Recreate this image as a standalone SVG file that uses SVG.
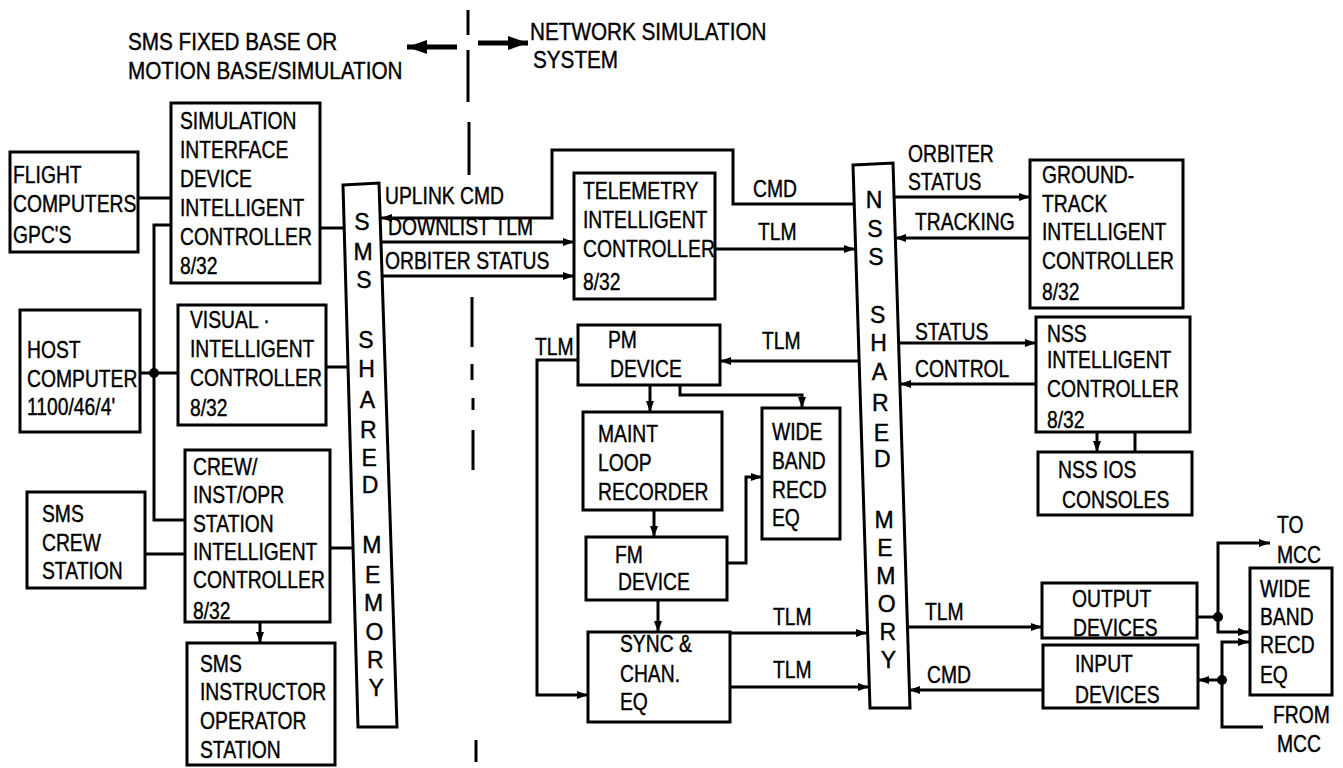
<svg xmlns="http://www.w3.org/2000/svg" width="1343" height="768" viewBox="0 0 1343 768">
<style>
.b{fill:#fff;stroke:#000;stroke-width:3}
.c{fill:none;stroke:#000;stroke-width:3}
.d{fill:#000}
text{font-family:"Liberation Sans",Arial,sans-serif;font-size:23px;fill:#000;stroke:#000;stroke-width:0.4px;transform-box:fill-box;transform-origin:0 50%;transform:scaleX(0.84)}
text.t{transform:scaleX(0.9)}
text.m{text-anchor:middle;transform:none}
</style>
<defs>
<marker id="a" viewBox="0 0 11 8" refX="11" refY="4" markerWidth="11" markerHeight="8" markerUnits="userSpaceOnUse" orient="auto"><path d="M0,0 L11,4 L0,8 z" fill="#000"/></marker>
<marker id="A" viewBox="0 0 20 14" refX="20" refY="7" markerWidth="20" markerHeight="14" markerUnits="userSpaceOnUse" orient="auto"><path d="M0,0 L20,7 L0,14 z" fill="#000"/></marker>
</defs>
<rect width="1343" height="768" fill="#fff"/>

<g id="titles">
<text class="t" x="128" y="50">SMS FIXED BASE OR</text>
<text class="t" x="128" y="79">MOTION BASE/SIMULATION</text>
<text class="t" x="530" y="40">NETWORK SIMULATION</text>
<text class="t" x="533" y="68">SYSTEM</text>
</g>

<g id="connectors">
<path class="c" d="M468,10 V35 M468,50 V102 M469,122 V175 M472,297 V347 M472,364 V380 M473,398 V410 M473,430 V470 M476,740 V762"/>
<path d="M457,47 H407" stroke="#000" stroke-width="5" fill="none" marker-end="url(#A)"/>
<path d="M478,43 H528" stroke="#000" stroke-width="5" fill="none" marker-end="url(#A)"/>
<path class="c" d="M138,198 H171"/>
<path class="c" d="M171,225 H154 V520 H185"/>
<path class="c" d="M140,373 H178"/>
<circle class="d" cx="154" cy="373" r="5"/>
<path class="c" d="M320,228 H344"/>
<path class="c" d="M326,367 H348"/>
<path class="c" d="M330,548 H353"/>
<path class="c" d="M145,554 H185"/>
<path class="c" d="M260,622 V643" marker-end="url(#a)"/>
<path class="c" d="M854,204 H733 V150 H552 V218 H381" marker-end="url(#a)"/>
<path class="c" d="M381,242 H574" marker-end="url(#a)"/>
<path class="c" d="M382,276 H574" marker-end="url(#a)"/>
<path class="c" d="M715,249 H855" marker-end="url(#a)"/>
<path class="c" d="M859,361 H720" marker-end="url(#a)"/>
<path class="c" d="M578,360 H537 V695 H588" marker-end="url(#a)"/>
<path class="c" d="M650,385 V412" marker-end="url(#a)"/>
<path class="c" d="M680,385 V395 H802 V408" marker-end="url(#a)"/>
<path class="c" d="M654,510 V537" marker-end="url(#a)"/>
<path class="c" d="M727,563 H746 V477 H762" marker-end="url(#a)"/>
<path class="c" d="M658,600 V632" marker-end="url(#a)"/>
<path class="c" d="M730,633 H867" marker-end="url(#a)"/>
<path class="c" d="M730,687 H869" marker-end="url(#a)"/>
<path class="c" d="M894,197 H1030" marker-end="url(#a)"/>
<path class="c" d="M1030,238 H895" marker-end="url(#a)"/>
<path class="c" d="M898,343 H1036" marker-end="url(#a)"/>
<path class="c" d="M1036,384 H900" marker-end="url(#a)"/>
<path class="c" d="M1097,432 V452" marker-end="url(#a)"/>
<path class="c" d="M1135,432 V452"/>
<path class="c" d="M907,627 H1042" marker-end="url(#a)"/>
<path class="c" d="M1043,690 H909" marker-end="url(#a)"/>
<path class="c" d="M1197,617 H1218"/>
<circle class="d" cx="1218" cy="617" r="5"/>
<path class="c" d="M1218,617 V543 H1270" marker-end="url(#a)"/>
<path class="c" d="M1218,617 V632 H1249" marker-end="url(#a)"/>
<path class="c" d="M1222,680 H1198" marker-end="url(#a)"/>
<circle class="d" cx="1222" cy="680" r="5"/>
<path class="c" d="M1222,680 V642 H1249" marker-end="url(#a)"/>
<path class="c" d="M1222,680 V727 H1263"/>
</g>

<g id="labels">
<text x="385" y="204">UPLINK CMD</text>
<text x="388" y="235">DOWNLIST TLM</text>
<text x="385" y="269">ORBITER STATUS</text>
<text x="753" y="197">CMD</text>
<text x="758" y="240">TLM</text>
<text x="762" y="349">TLM</text>
<text x="535" y="355">TLM</text>
<text x="773" y="625">TLM</text>
<text x="773" y="678">TLM</text>
<text x="908" y="162">ORBITER</text>
<text x="908" y="190">STATUS</text>
<text x="915" y="230">TRACKING</text>
<text x="915" y="340">STATUS</text>
<text x="915" y="377">CONTROL</text>
<text x="925" y="620">TLM</text>
<text x="927" y="683">CMD</text>
<text x="1277" y="533">TO</text>
<text x="1277" y="563">MCC</text>
<text x="1273" y="723">FROM</text>
<text x="1277" y="752">MCC</text>
</g>

<g id="flight-computers">
<rect class="b" x="10" y="152" width="128" height="100"/>
<text x="13" y="183">FLIGHT</text>
<text x="13" y="212">COMPUTERS</text>
<text x="13" y="243">GPC'S</text>
</g>
<g id="sim-interface">
<rect class="b" x="171" y="103" width="149" height="180"/>
<text x="180" y="129">SIMULATION</text>
<text x="180" y="158">INTERFACE</text>
<text x="180" y="187">DEVICE</text>
<text x="180" y="216">INTELLIGENT</text>
<text x="180" y="245">CONTROLLER</text>
<text x="180" y="274">8/32</text>
</g>
<g id="host-computer">
<rect class="b" x="20" y="310" width="120" height="122"/>
<text x="27" y="358">HOST</text>
<text x="27" y="387">COMPUTER</text>
<text x="27" y="415">1100/46/4'</text>
</g>
<g id="visual">
<rect class="b" x="178" y="305" width="148" height="120"/>
<text x="190" y="328">VISUAL ·</text>
<text x="190" y="357">INTELLIGENT</text>
<text x="190" y="386">CONTROLLER</text>
<text x="190" y="416">8/32</text>
</g>
<g id="crew-inst">
<rect class="b" x="185" y="450" width="145" height="172"/>
<text x="193" y="475">CREW/</text>
<text x="193" y="503">INST/OPR</text>
<text x="193" y="532">STATION</text>
<text x="193" y="560">INTELLIGENT</text>
<text x="193" y="588">CONTROLLER</text>
<text x="193" y="619">8/32</text>
</g>
<g id="sms-crew-station">
<rect class="b" x="27" y="492" width="118" height="96"/>
<text x="42" y="522">SMS</text>
<text x="42" y="551">CREW</text>
<text x="42" y="579">STATION</text>
</g>
<g id="sms-instructor">
<rect class="b" x="187" y="643" width="148" height="122"/>
<text x="200" y="672">SMS</text>
<text x="200" y="700">INSTRUCTOR</text>
<text x="200" y="729">OPERATOR</text>
<text x="200" y="758">STATION</text>
</g>
<g id="sms-shared-memory">
<polygon class="b" points="343,185 379,183 397,727 358,727"/>
<text class="m"><tspan x="362" y="230">S</tspan><tspan x="363" y="260">M</tspan><tspan x="364" y="288">S</tspan><tspan x="366" y="348">S</tspan><tspan x="366.5" y="377">H</tspan><tspan x="367.4" y="408">A</tspan><tspan x="368.3" y="438">R</tspan><tspan x="369.2" y="466">E</tspan><tspan x="370" y="493">D</tspan><tspan x="371.8" y="553">M</tspan><tspan x="372.7" y="583">E</tspan><tspan x="373.6" y="611">M</tspan><tspan x="374.4" y="640">O</tspan><tspan x="375.3" y="668">R</tspan><tspan x="376.1" y="696">Y</tspan></text>
</g>
<g id="telemetry">
<rect class="b" x="574" y="173" width="141" height="126"/>
<text x="583" y="199">TELEMETRY</text>
<text x="583" y="228">INTELLIGENT</text>
<text x="583" y="257">CONTROLLER</text>
<text x="583" y="290">8/32</text>
</g>
<g id="pm-device">
<rect class="b" x="578" y="325" width="142" height="60"/>
<text x="608" y="348">PM</text>
<text x="610" y="377">DEVICE</text>
</g>
<g id="maint-loop">
<rect class="b" x="583" y="412" width="139" height="98"/>
<text x="598" y="442">MAINT</text>
<text x="598" y="471">LOOP</text>
<text x="598" y="500">RECORDER</text>
</g>
<g id="fm-device">
<rect class="b" x="586" y="537" width="141" height="63"/>
<text x="615" y="563">FM</text>
<text x="618" y="590">DEVICE</text>
</g>
<g id="wideband-1">
<rect class="b" x="762" y="408" width="78" height="131"/>
<text x="772" y="440">WIDE</text>
<text x="772" y="469">BAND</text>
<text x="772" y="498">RECD</text>
<text x="772" y="526">EQ</text>
</g>
<g id="sync-chan">
<rect class="b" x="588" y="632" width="142" height="90"/>
<text x="620" y="652">SYNC &amp;</text>
<text x="620" y="682">CHAN.</text>
<text x="620" y="710">EQ</text>
</g>
<g id="nss-shared-memory">
<polygon class="b" points="853,165 893,163 910,708 870,708"/>
<text class="m"><tspan x="874" y="208">N</tspan><tspan x="874.9" y="237">S</tspan><tspan x="875.8" y="265">S</tspan><tspan x="877.6" y="323">S</tspan><tspan x="878.5" y="351">H</tspan><tspan x="879.4" y="380">A</tspan><tspan x="880.4" y="411">R</tspan><tspan x="881.3" y="441">E</tspan><tspan x="882.2" y="467">D</tspan><tspan x="884.1" y="528">M</tspan><tspan x="885" y="556">E</tspan><tspan x="885.9" y="584">M</tspan><tspan x="886.8" y="612">O</tspan><tspan x="887.8" y="640">R</tspan><tspan x="888.5" y="668">Y</tspan></text>
</g>
<g id="ground-track">
<rect class="b" x="1030" y="160" width="153" height="148"/>
<text x="1042" y="183">GROUND-</text>
<text x="1042" y="212">TRACK</text>
<text x="1042" y="240">INTELLIGENT</text>
<text x="1042" y="269">CONTROLLER</text>
<text x="1042" y="300">8/32</text>
</g>
<g id="nss-controller">
<rect class="b" x="1036" y="317" width="154" height="115"/>
<text x="1047" y="342">NSS</text>
<text x="1047" y="368">INTELLIGENT</text>
<text x="1047" y="397">CONTROLLER</text>
<text x="1047" y="428">8/32</text>
</g>
<g id="nss-ios-consoles">
<rect class="b" x="1038" y="452" width="154" height="63"/>
<text x="1058" y="478">NSS IOS</text>
<text x="1062" y="508">CONSOLES</text>
</g>
<g id="output-devices">
<rect class="b" x="1042" y="583" width="155" height="55"/>
<text x="1072" y="607">OUTPUT</text>
<text x="1073" y="636">DEVICES</text>
</g>
<g id="input-devices">
<rect class="b" x="1043" y="645" width="155" height="63"/>
<text x="1075" y="672">INPUT</text>
<text x="1075" y="703">DEVICES</text>
</g>
<g id="wideband-2">
<rect class="b" x="1250" y="568" width="82" height="127"/>
<text x="1260" y="597">WIDE</text>
<text x="1260" y="625">BAND</text>
<text x="1260" y="653">RECD</text>
<text x="1260" y="683">EQ</text>
</g>
</svg>
